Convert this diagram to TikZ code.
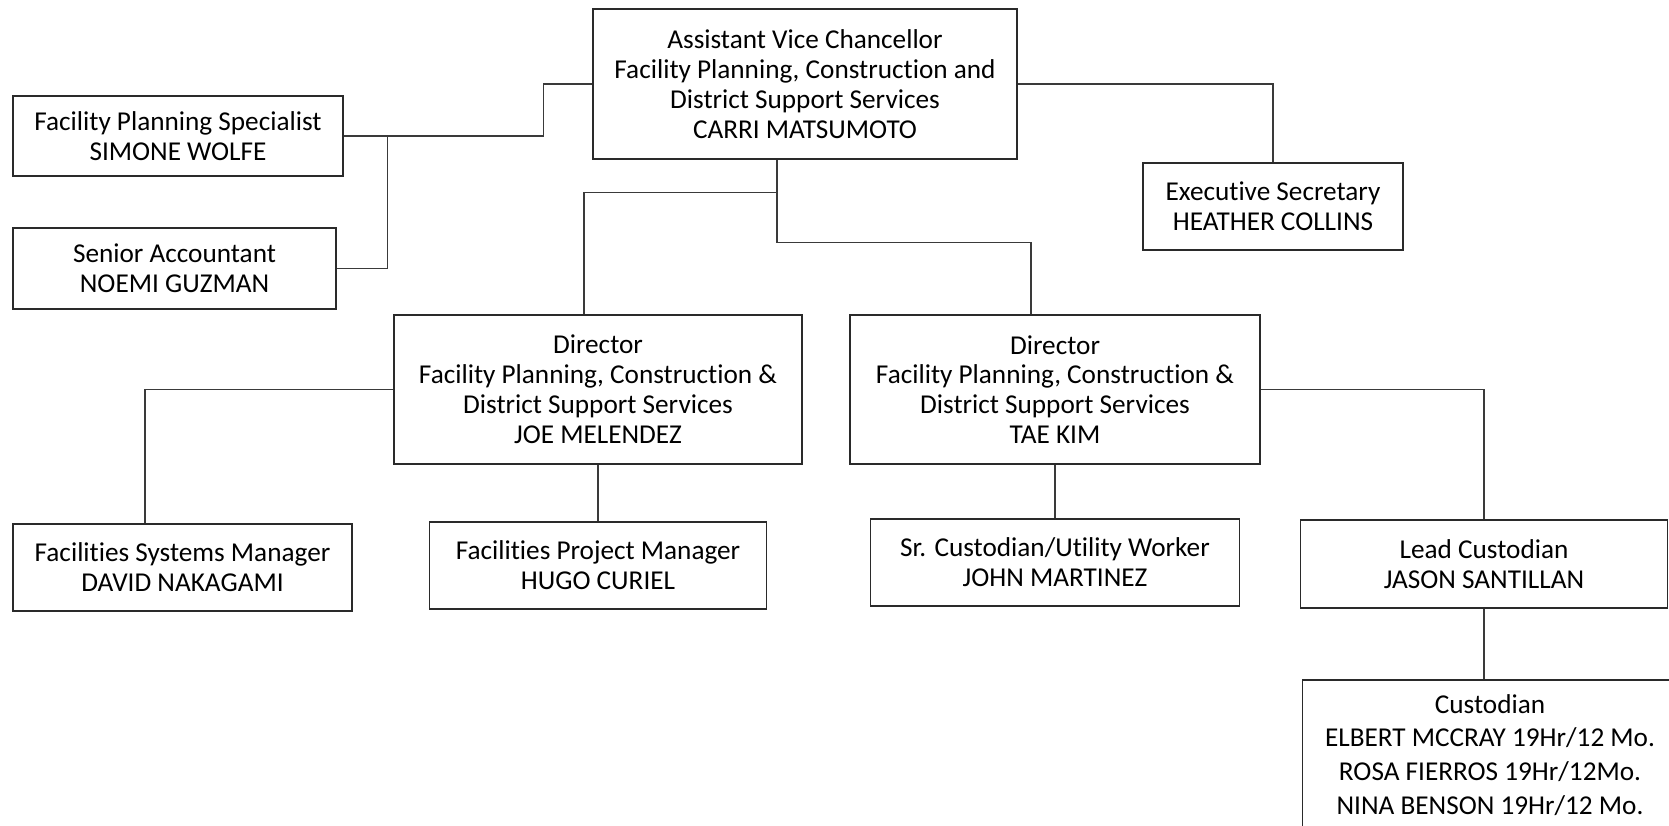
\documentclass[tikz,border=0pt]{standalone}
\usepackage{fontspec}
\setmainfont{Carlito}[Ligatures=NoCommon]
\usepackage{xcolor}
\usepackage{tikz}
\definecolor{oline}{HTML}{3A3A3A}
\definecolor{obox}{HTML}{2A2A2A}
\begin{document}
\begin{tikzpicture}[
  x=0.02cm,y=-0.02cm,
  font=\fontsize{15.5pt}{17pt}\selectfont,
  post/.style={draw=obox,line width=0.9pt,align=center,inner sep=0pt,text=black},
  ln/.style={draw=oline,line width=0.7pt}
]
\clip (0,0) rectangle (1669,825);
\fill[white] (0,0) rectangle (1669,825);
\node[post,minimum width=8.48cm,minimum height=3.0cm] (avc) at (805,84)
  {Assistant Vice Chancellor\\Facility Planning, Construction and\\District Support Services\\CARRI MATSUMOTO};
\node[post,minimum width=6.6cm,minimum height=1.6cm] (fps) at (178,136)
  {Facility Planning Specialist\\SIMONE WOLFE};
\node[post,minimum width=6.46cm,minimum height=1.62cm] (sa) at (174.5,268.5)
  {Senior Accountant\\NOEMI GUZMAN};
\node[post,minimum width=5.2cm,minimum height=1.74cm] (exec) at (1273,206.5)
  {Executive Secretary\\HEATHER COLLINS};
\node[post,minimum width=8.16cm,minimum height=2.98cm] (dir1) at (598,389.5)
  {Director\\Facility Planning, Construction \&\\District Support Services\\JOE MELENDEZ};
\node[post,minimum width=8.2cm,minimum height=2.98cm] (dir2) at (1055,389.5)
  {Director\\Facility Planning, Construction \&\\District Support Services\\TAE KIM};
\node[post,minimum width=6.78cm,minimum height=1.74cm] (fsm) at (182.5,567.5)
  {Facilities Systems Manager\\DAVID NAKAGAMI};
\node[post,minimum width=6.74cm,minimum height=1.74cm] (fpm) at (598,565.5)
  {Facilities Project Manager\\HUGO CURIEL};
\node[post,minimum width=7.38cm,minimum height=1.74cm] (scu) at (1055,562.5)
  {Sr. Custodian/Utility Worker\\JOHN MARTINEZ};
\node[post,minimum width=7.34cm,minimum height=1.76cm] (lead) at (1484,564)
  {Lead Custodian\\JASON SANTILLAN};
\node[post,minimum width=7.5cm,minimum height=3.0cm,
      font=\fontsize{15.5pt}{19.3pt}\selectfont] (cust) at (1490,755)
  {Custodian\\ELBERT MCCRAY 19Hr/12 Mo.\\ROSA FIERROS 19Hr/12Mo.\\NINA BENSON 19Hr/12 Mo.};

\draw[ln] (fps.east) -- ++(200,0) |- (avc.west);
\draw[ln] (sa.east) -- ++(51,0) |- (fps.east);
\draw[ln] (avc.east) -| (exec.north);
\draw[ln] ([xshift=-0.56cm]avc.south) -- ++(0,33) -| ([xshift=-0.28cm]dir1.north);
\draw[ln] ([xshift=-0.56cm]avc.south) -- ++(0,83) -| ([xshift=-0.48cm]dir2.north);
\draw[ln] (dir1.west) -| ([xshift=-0.75cm]fsm.north);
\draw[ln] (dir1.south) -- (fpm.north);
\draw[ln] (dir2.south) -- (scu.north);
\draw[ln] (dir2.east) -| (lead.north);
\draw[ln] (lead.south) -- (lead.south |- cust.north);
\end{tikzpicture}
\end{document}
